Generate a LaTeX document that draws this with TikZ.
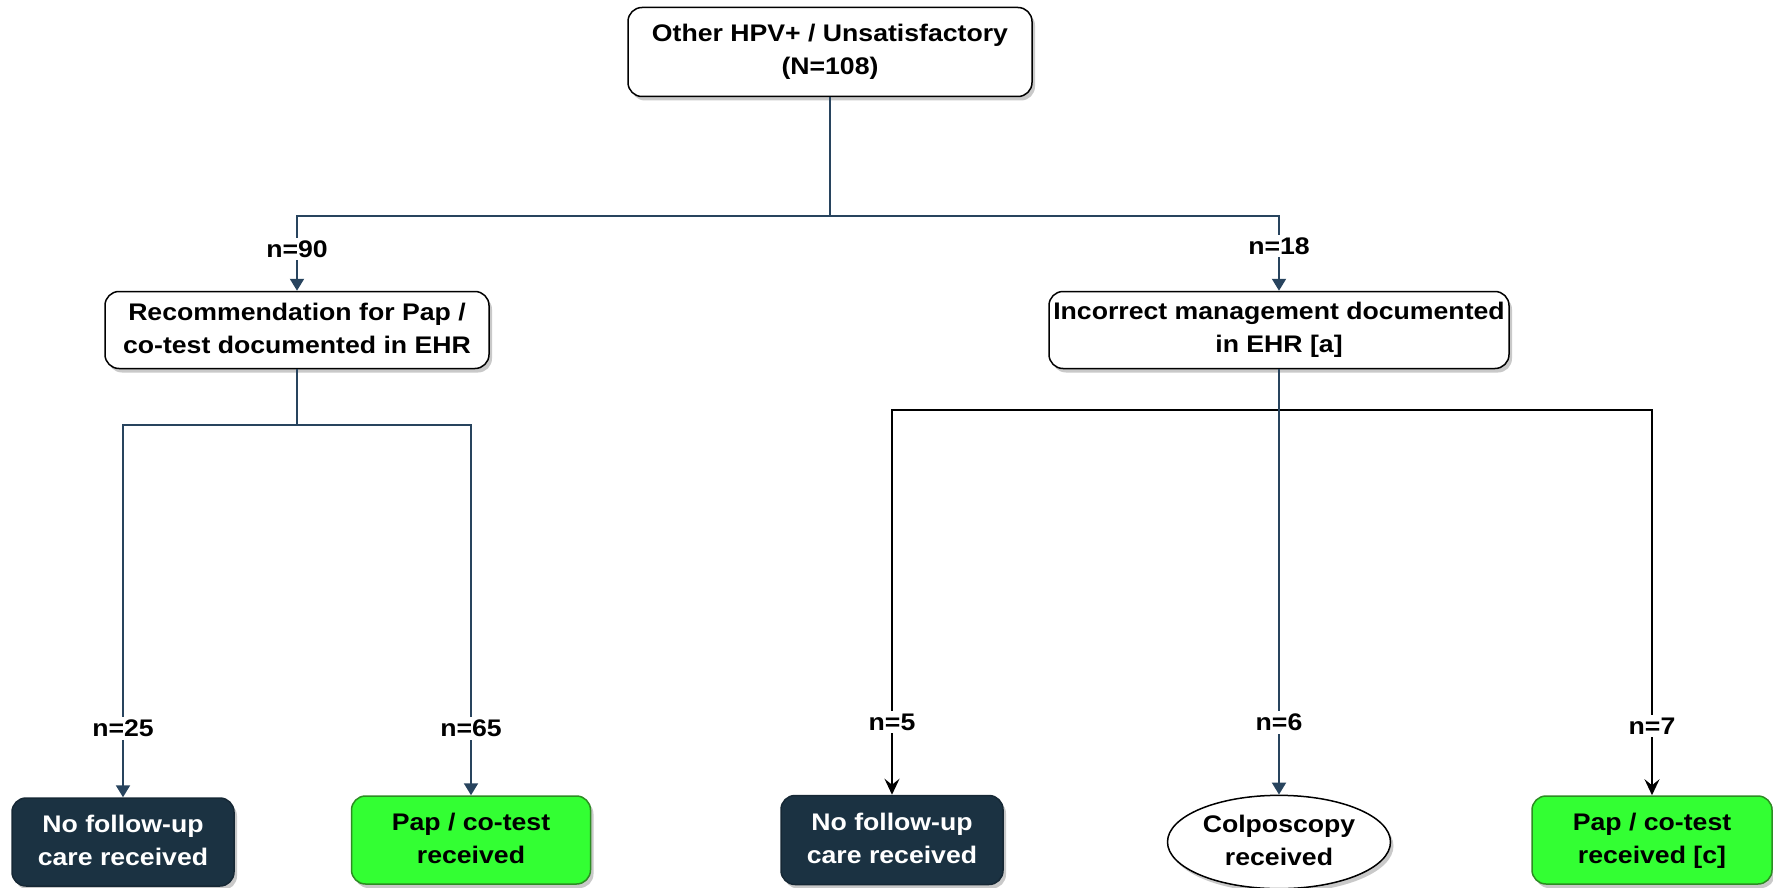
\documentclass[tikz,border=0pt]{standalone}
\usepackage{fontspec}
\setmainfont{Liberation Sans}[FakeStretch=1.11]
\usetikzlibrary{arrows.meta,shapes.geometric,shadows}
\definecolor{linec}{RGB}{40,68,94}
\definecolor{darkfill}{RGB}{27,50,66}
\definecolor{greenfill}{RGB}{51,255,51}
\definecolor{greenline}{RGB}{45,140,35}
\newcommand{\uptext}[2]{\raisebox{#1}{\begin{tabular}{@{}c@{}}#2\end{tabular}}}
\begin{document}
\begin{tikzpicture}[x=1pt,y=-1pt,
  font=\fontsize{24}{33}\selectfont\bfseries,
  shad/.style={drop shadow={shadow xshift=3pt,shadow yshift=-4pt,opacity=0.3,fill=black!70}},
  whitebox/.style={draw=black, line width=1.5pt, rounded corners=14pt, fill=white, align=center, inner sep=0pt, shad},
  darkbox/.style={draw=darkfill!80!black, line width=1.5pt, rounded corners=14pt, fill=darkfill, text=white, inner sep=0pt, shad},
  greenbox/.style={draw=greenline, line width=1.5pt, rounded corners=14pt, fill=greenfill, inner sep=0pt, shad},
  ovalbox/.style={ellipse, draw=black, line width=1.5pt, fill=white, inner sep=0pt, shad},
  conn/.style={draw=linec, line width=2pt},
  bconn/.style={draw=black, line width=2.2pt},
  arr/.style={-{Triangle[width=14pt,length=12pt]}},
  barr/.style={-{Stealth[width=15pt,length=16pt,inset=6pt]}},
  lab/.style={fill=white, inner sep=3pt}
]
\useasboundingbox (0,0) rectangle (1773,888);

% nodes
\node[whitebox, minimum width=404pt, minimum height=89pt] (root) at (830,52) {Other HPV+ / Unsatisfactory\\(N=108)};
\node[whitebox, minimum width=384pt, minimum height=77pt] (rec) at (297,330) {\uptext{5pt}{Recommendation for Pap /\\co-test documented in EHR}};
\node[whitebox, minimum width=460pt, minimum height=77pt] (inc) at (1279,330) {Incorrect management documented\\in EHR [a]};
\node[darkbox, minimum width=222pt, minimum height=88pt] (nf1) at (123,842) {\uptext{8pt}{No follow-up\\care received}};
\node[greenbox, minimum width=239pt, minimum height=88pt] (pap1) at (471,840) {\uptext{8pt}{Pap / co-test\\received}};
\node[darkbox, minimum width=222pt, minimum height=89pt] (nf2) at (892,840) {\uptext{7pt}{No follow-up\\care received}};
\node[ovalbox, minimum width=223pt, minimum height=90pt] (col) at (1279,842) {\uptext{5pt}{Colposcopy\\received}};
\node[greenbox, minimum width=240pt, minimum height=88pt] (pap2) at (1652,840) {\uptext{7pt}{Pap / co-test\\received [c]}};

% junctions
\coordinate (t1) at (830,216);
\coordinate (t2) at (297,425);
\coordinate (t3) at (1279,410);

% top level
\draw[conn] (root.south) -- (t1);
\draw[conn,arr] (t1) -| (rec.north);
\draw[conn,arr] (t1) -| (inc.north);
\node[lab] (l90) at (297,249) {n=90};
\node[lab] (l18) at (1279,246) {n=18};

% left branch
\draw[conn] (rec.south) -- (t2);
\draw[conn,arr] (t2) -| (nf1.north);
\draw[conn,arr] (t2) -| (pap1.north);
\node[lab] (l25) at (123,728) {n=25};
\node[lab] (l65) at (471,728) {n=65};

% right branch
\draw[bconn,barr] (t3) -| (nf2.north);
\draw[bconn,barr] (t3) -| (pap2.north);
\draw[conn,arr] (inc.south) -- (col.north);
\node[lab] (l5) at (892,722) {n=5};
\node[lab] (l6) at (1279,722) {n=6};
\node[lab] (l7) at (1652,726) {n=7};
\end{tikzpicture}
\end{document}
